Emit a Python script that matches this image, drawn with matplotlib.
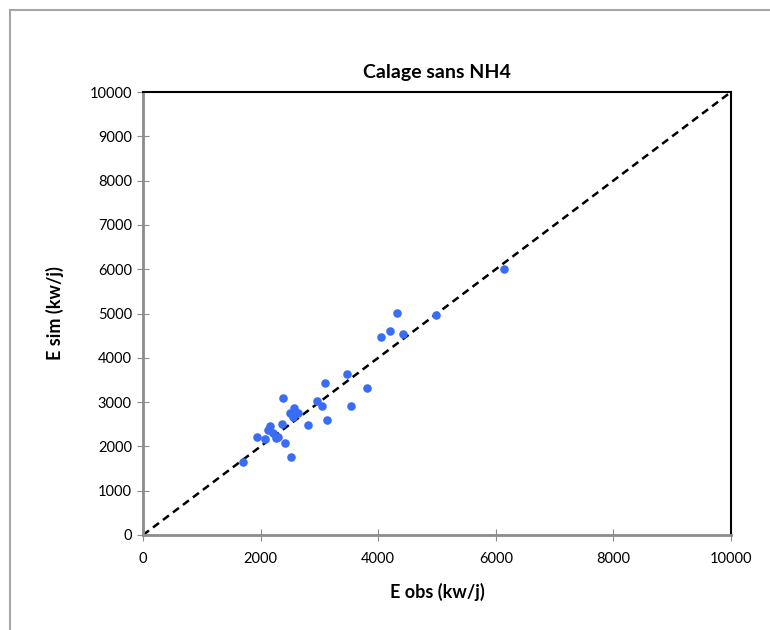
import matplotlib.pyplot as plt
from matplotlib.lines import Line2D

plt.rcParams['font.family'] = ['Lato', 'DejaVu Sans']

e_obs = [4320, 4040, 4200, 4420, 3470, 3095, 3815, 2965, 3040, 3540,
         3135, 2380, 2575, 2500, 2630, 2555, 2810, 2370, 2160, 2120,
         2215, 2300, 1945, 2075, 2260, 2415, 2515, 1705, 6140, 4985]
e_sim = [5020, 4475, 4600, 4545, 3635, 3425, 3310, 3030, 2910, 2910,
         2605, 3085, 2860, 2760, 2760, 2655, 2475, 2500, 2460, 2370,
         2295, 2220, 2220, 2160, 2185, 2085, 1760, 1655, 6005, 4965]
ticks_x = [0, 2000, 4000, 6000, 8000, 10000]
ticks_y = list(range(0, 10001, 1000))

fig = plt.figure(figsize=(7.7, 6.3), dpi=100)
# chart area border (only left and top edges are visible in the crop)
fx, fy = 10 / 770, 1 - 10 / 630
fig.lines.append(Line2D([fx, fx], [0, fy], transform=fig.transFigure,
                        color='#a6a6a6', linewidth=1.5))
fig.lines.append(Line2D([fx, 1], [fy, fy], transform=fig.transFigure,
                        color='#a6a6a6', linewidth=1.5))

ax = fig.add_axes([143 / 770, 1 - 535 / 630, 588 / 770, 443 / 630])
ax.plot([0, 10000], [0, 10000], color='black', linestyle=(0, (3, 2)), linewidth=1.8, zorder=2)
ax.scatter(e_obs, e_sim, s=38, color='#3a6df5', zorder=3, linewidths=0)

ax.set_xlim(0, 10000)
ax.set_ylim(0, 10000)
ax.set_xticks(ticks_x)
ax.set_yticks(ticks_y)
ax.tick_params(axis='x', direction='inout', length=8, color='#8c8c8c', labelsize=10.5, pad=8)
ax.tick_params(axis='y', direction='inout', length=8, color='#8c8c8c', labelsize=10.5, pad=4)

for s in ['top', 'right']:
    ax.spines[s].set_color('black')
    ax.spines[s].set_linewidth(1.5)
for s in ['left', 'bottom']:
    ax.spines[s].set_color('#8c8c8c')
    ax.spines[s].set_linewidth(2)

ax.set_title('Calage sans NH4', fontsize=14, fontweight='bold', pad=10)
ax.set_xlabel('E obs (kw/j)', fontsize=13, fontweight='bold')
ax.set_ylabel('E sim (kw/j)', fontsize=13, fontweight='bold')
ax.xaxis.set_label_coords(0.5, -0.108)
ax.yaxis.set_label_coords(-0.135, 0.5)

fig.savefig('out.png', dpi=100)
